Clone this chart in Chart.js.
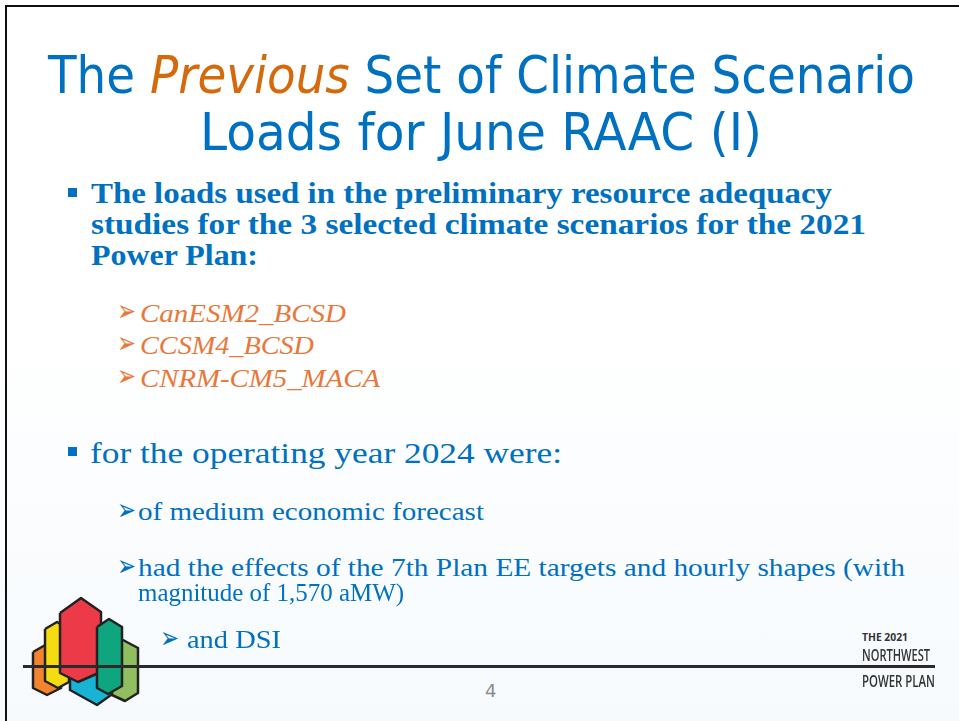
<!DOCTYPE html>
<html>
<head>
<meta charset="utf-8">
<script src="https://cdn.jsdelivr.net/npm/chart.js@4.4.1/dist/chart.umd.min.js"></script>
<style>
  html, body { margin: 0; padding: 0; background: #fff; }
  #slide { position: relative; width: 959px; height: 721px; overflow: hidden;
    background: linear-gradient(#ffffff 0%, #ffffff 45%, #f6fafd 100%); }
  .frameTop { position: absolute; left: 5px; top: 5px; width: 960px; height: 2px; background: #111; }
  .frameLeft { position: absolute; left: 5px; top: 5px; width: 2px; height: 720px; background: #111; }
  .t { position: absolute; white-space: nowrap; transform-origin: 0 0; line-height: 0.75; }
  .t .b { display: inline-block; width: 0; height: 0; vertical-align: baseline; }
  .sq { position: absolute; width: 9px; height: 9px; background: #0070c0; }
  #logoBox { position: absolute; left: 20px; top: 592px; width: 125px; height: 118px; }
  #rule { position: absolute; left: 23px; top: 665px; width: 912px; height: 3px; background: #2b2b2b; }
</style>
</head>
<body>
<div id="slide">
  <div class="frameTop"></div>
  <div class="frameLeft"></div>
  <div id="logoBox"><canvas id="logo"></canvas></div>
  <div id="rule"></div>
  <div class="sq" style="left:68px;top:188px"></div>
  <div class="sq" style="left:68px;top:447px"></div>
</div>
<script>
// logo hexagons (vertex lists, slide pixel units)
const orangeHex = [[33,652],[47,644],[61,652],[61,688],[47,695],[33,688],[33,652]];
const yellowHex = [[45,629],[57,622],[69,629],[69,682],[58,688],[45,681],[45,629]];
const cyanHex   = [[70,640],[95,625],[118,640],[118,690],[97,705],[70,690],[70,640]];
const redHex    = [[60,613],[81,598],[101,612],[101,672],[78,682],[60,673],[60,613]];
const greenHex  = [[112,648],[123,640],[138,648],[138,693],[125,701],[112,695],[112,648]];
const tealHex   = [[97,627],[109,619],[122,627],[122,686],[108,694],[97,688],[97,627]];

const hexes = [
  { pts: tealHex,   color: '#0fa67f' },
  { pts: greenHex,  color: '#8fbf5e' },
  { pts: redHex,    color: '#ec3a48' },
  { pts: cyanHex,   color: '#19b3d6' },
  { pts: yellowHex, color: '#f5dc12' },
  { pts: orangeHex, color: '#f3832f' }
];

new Chart(document.getElementById('logo'), {
  type: 'scatter',
  data: {
    datasets: hexes.map(h => ({
      data: h.pts.map(p => ({ x: p[0], y: p[1] })),
      showLine: true,
      fill: 'shape',
      backgroundColor: h.color,
      borderColor: '#222',
      borderWidth: 2.5,
      borderJoinStyle: 'round',
      pointRadius: 0,
      tension: 0
    }))
  },
  options: {
    responsive: true,
    maintainAspectRatio: false,
    animation: false,
    layout: { padding: 0 },
    plugins: { legend: { display: false }, tooltip: { enabled: false } },
    scales: {
      x: { type: 'linear', min: 20, max: 145, display: false },
      y: { type: 'linear', min: 592, max: 710, reverse: true, display: false }
    }
  }
});

// slide text
const slide = document.getElementById('slide');
function put(html, x, base, font, color, w) {
  const d = document.createElement('div');
  d.className = 't';
  d.style.font = font;
  d.style.color = color;
  d.innerHTML = html + '<i class="b"></i>';
  d.style.left = x + 'px';
  d.style.top = '0px';
  slide.appendChild(d);
  const s = slide.getBoundingClientRect();
  const b = d.querySelector('.b').getBoundingClientRect().top - s.top;
  d.style.top = (base - b) + 'px';
  if (w) {
    const cw = d.getBoundingClientRect().width;
    d.style.transform = 'scaleX(' + (w / cw) + ')';
  }
}

const BLUE = '#0070c0', ORANGE = '#e8783a';
const titleFont = '52px "DejaVu Sans"';
put('The <span style="font-style:italic;color:#d46a0c">Previous</span> Set of Climate Scenario', 48, 93, titleFont, BLUE, 867);
put('Loads for June RAAC (I)', 200, 150, titleFont, BLUE, 562);

const bodyBold = 'bold 30px "Liberation Serif"';
put('The loads used in the preliminary resource adequacy', 91, 203, bodyBold, BLUE, 741);
put('studies for the 3 selected climate scenarios for the 2021', 91, 234, bodyBold, BLUE, 775);
put('Power Plan:', 91, 265, bodyBold, BLUE, 167);

const arrowFont = '30px "DejaVu Sans"';
const subFont = 'italic 26px "Liberation Serif"';
put('➢', 117, 321, arrowFont, ORANGE, 19);
put('CanESM2_BCSD', 140, 322, subFont, ORANGE, 206);
put('➢', 117, 353, arrowFont, ORANGE, 19);
put('CCSM4_BCSD', 140, 354, subFont, ORANGE, 174);
put('➢', 117, 386, arrowFont, ORANGE, 19);
put('CNRM-CM5_MACA', 140, 387, subFont, ORANGE, 240);

put('for the operating year 2024 were:', 90, 463, '30px "Liberation Serif"', BLUE, 472);
const body2 = '26px "Liberation Serif"';
put('➢', 117, 520, arrowFont, BLUE, 19);
put('of medium economic forecast', 138, 520, body2, BLUE, 346);
put('➢', 117, 576, arrowFont, BLUE, 19);
put('had the effects of the 7th Plan EE targets and hourly shapes (with', 138, 576, body2, BLUE, 767);
put('magnitude of 1,570 aMW)', 138, 601, body2, BLUE, 266);
put('➢', 160, 648, arrowFont, BLUE, 19);
put('and DSI', 187, 648, body2, BLUE, 94);

// footer
put('THE 2021', 862, 641, 'bold 10px "Open Sans"', '#333', 46);
put('NORTHWEST', 862, 661, '600 17px "Open Sans"', '#333', 68);
put('POWER PLAN', 862, 687, '600 17px "Open Sans"', '#333', 73);
put('4', 485, 697, '18px "DejaVu Sans"', '#8a8a8a');
</script>
</body>
</html>
